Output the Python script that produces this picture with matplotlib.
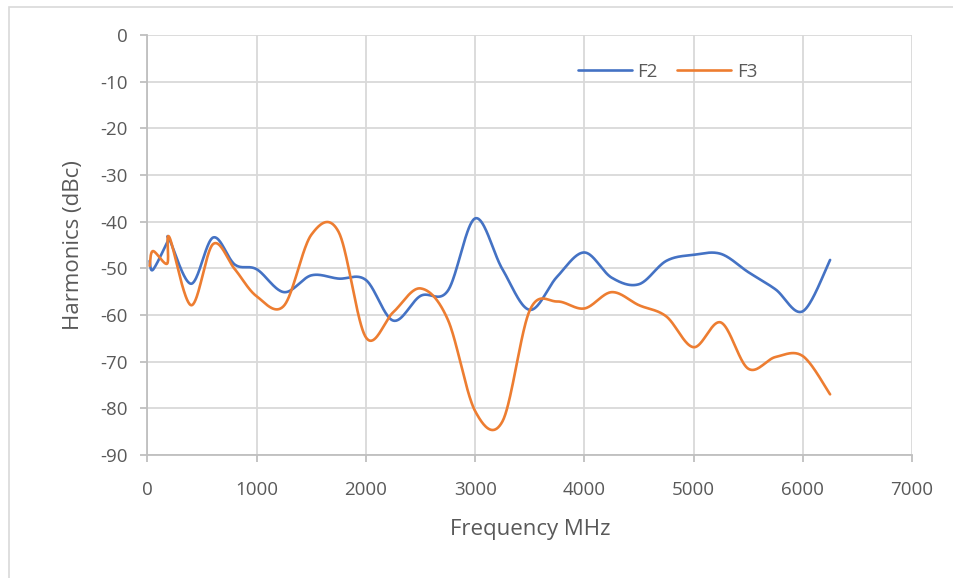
import numpy as np
import matplotlib
matplotlib.use("Agg")
import matplotlib.pyplot as plt
from matplotlib.patches import Rectangle

# harmonics vs frequency
freq = [20, 50, 180, 200, 400, 600, 800, 1000, 1250, 1500, 1750, 2000, 2250, 2500,
        2750, 3000, 3250, 3500, 3750, 4000, 4250, 4500, 4750, 5000, 5250, 5500,
        5750, 6000, 6250]
f2 = [-48.4, -50.3, -44.5, -43.8, -53.3, -43.4, -49.2, -50.2, -55.1, -51.5, -52.2,
      -52.5, -61.2, -55.9, -54.8, -39.3, -50.2, -58.9, -51.8, -46.6, -52.0, -53.4,
      -48.4, -47.1, -46.9, -50.8, -54.5, -59.2, -48.2]
f3 = [-49.5, -46.3, -49.0, -43.3, -57.9, -44.8, -50.2, -56.0, -58.0, -42.8, -42.2,
      -64.8, -59.4, -54.3, -61.0, -80.6, -82.8, -59.0, -57.1, -58.6, -55.1, -57.9,
      -60.3, -66.9, -61.6, -71.5, -69.0, -68.8, -77.0]

xticks = np.arange(0, 7001, 1000)
yticks = np.arange(-90, 1, 10)


def smooth(x, y, n=40):
    # excel style smoothed line: bezier segments, control points from neighbours / 6
    p = np.column_stack([x, y]).astype(float)
    out = []
    t = np.linspace(0, 1, n)[:, None]
    for i in range(len(p) - 1):
        p0 = p[i - 1] if i > 0 else p[i]
        p1 = p[i]
        p2 = p[i + 1]
        p3 = p[i + 2] if i + 2 < len(p) else p[i + 1]
        c1 = p1 + (p2 - p0) / 6
        c2 = p2 - (p3 - p1) / 6
        seg = ((1 - t) ** 3) * p1 + 3 * ((1 - t) ** 2) * t * c1 + 3 * (1 - t) * t ** 2 * c2 + t ** 3 * p2
        out.append(seg if i == 0 else seg[1:])
    out = np.vstack(out)
    return out[:, 0], out[:, 1]


def main():
    plt.rcParams['font.family'] = ['Open Sans', 'DejaVu Sans']
    plt.rcParams['axes.unicode_minus'] = False
    fig = plt.figure(figsize=(9.54, 5.78), dpi=100)
    ax = fig.add_axes([0.1546, 0.2128, 0.8014, 0.7266])

    # chart area frame
    fig.patches.append(Rectangle((9 / 954, -0.1), 1.2, (578 - 7) / 578 + 0.1,
                                 transform=fig.transFigure, fill=False,
                                 edgecolor='#d9d9d9', linewidth=1.2))

    sx, sy = smooth(freq, f2)
    ax.plot(sx, sy, color='#4472C4', linewidth=1.9, label='F2', solid_capstyle='round')
    sx, sy = smooth(freq, f3)
    ax.plot(sx, sy, color='#ED7D31', linewidth=1.9, label='F3', solid_capstyle='round')

    ax.set_xlim(0, 7000)
    ax.set_ylim(-90, 0)
    ax.set_xticks(xticks)
    ax.set_yticks(yticks)
    ax.grid(True, color='#d9d9d9', linewidth=1.3)
    ax.set_axisbelow(True)
    for s in ['top', 'right']:
        ax.spines[s].set_visible(False)
    for s in ['left', 'bottom']:
        ax.spines[s].set_color('#bfbfbf')
        ax.spines[s].set_linewidth(1.3)
    ax.tick_params(colors='#595959', labelsize=13.5, length=5, width=1.3)
    ax.tick_params(axis='x', pad=14)
    ax.tick_params(axis='y', pad=9)
    ax.tick_params(axis='both', color='#bfbfbf')

    ax.set_xlabel('Frequency MHz', fontsize=16, color='#595959', labelpad=14)
    ax.set_ylabel('Harmonics (dBc)', fontsize=16, color='#595959', labelpad=12)

    leg = ax.legend(loc='center', bbox_to_anchor=(0.68, 0.912), ncol=2, frameon=False,
                    fontsize=13.5, handlelength=2.9, columnspacing=1.0, handletextpad=0.3)
    for txt in leg.get_texts():
        txt.set_color('#595959')

    fig.savefig('out.png', dpi=100)


if __name__ == "__main__":
    main()
